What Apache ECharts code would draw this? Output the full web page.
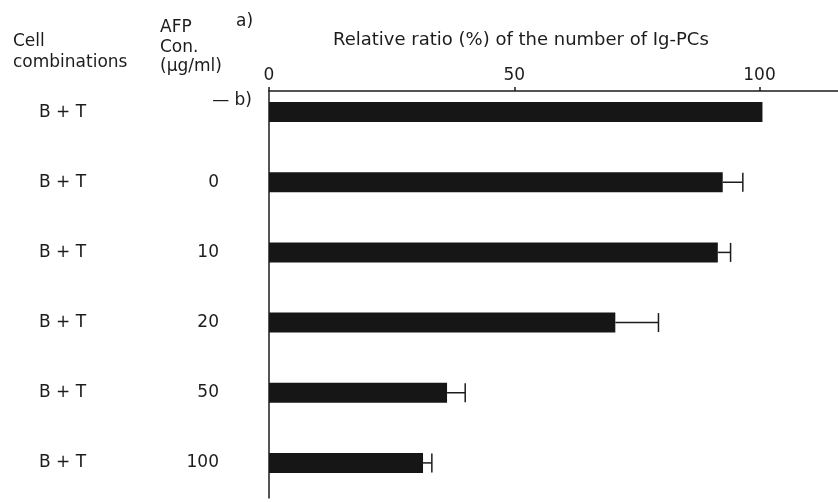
<!DOCTYPE html>
<html>
<head>
<meta charset="utf-8">
<script src="https://cdn.jsdelivr.net/npm/echarts@6/dist/echarts.min.js"></script>
<style>
  html, body { margin: 0; padding: 0; background: #ffffff; }
  #chart { width: 838px; height: 502px; }
</style>
</head>
<body>
<div id="chart"></div>
<script>
// Cell combinations and AFP concentrations per row
const cellCombos = ['B + T', 'B + T', 'B + T', 'B + T', 'B + T', 'B + T'];
const afpConc = ['— b)', '0', '10', '20', '50', '100'];
// Relative ratio (%) of Ig-PC numbers and the upper error (SD)
const ratioValues = [100.6, 92.5, 91.5, 70.6, 36.3, 31.4];
const ratioErrors = [null, 4.1, 2.6, 8.8, 3.7, 1.8];

const FONT = 'DejaVu Sans';
const INK = '#1c1c1c';
const AXIS_MAX = 116;

const chart = echarts.init(document.getElementById('chart'), null, { renderer: 'canvas' });

const rowIndex = cellCombos.map((_, i) => i);
const errData = rowIndex
  .filter(i => ratioErrors[i] != null)
  .map(i => [i, ratioValues[i], ratioValues[i] + ratioErrors[i]]);

function headerText(text, x, y, size) {
  return {
    type: 'text', x: x, y: y,
    style: { text: text, font: (size || 17) + 'px "' + FONT + '"', fill: INK, textVerticalAlign: 'middle' }
  };
}

const option = {
  backgroundColor: '#ffffff',
  animation: false,
  grid: [
    // frame: top value axis and the vertical baseline
    { left: 269, right: 0, top: 91, bottom: 4 },
    // rows: bars and error bars
    { left: 269, right: 0, top: 77, bottom: 4 }
  ],
  xAxis: [
    {
      gridIndex: 0, type: 'value', position: 'top',
      min: 0, max: AXIS_MAX, interval: 50,
      axisLine: { show: true, onZero: false, lineStyle: { color: INK, width: 1.5 } },
      axisTick: { show: true, length: 4, lineStyle: { color: INK, width: 1.5 } },
      axisLabel: { show: true, margin: 7, showMaxLabel: false, color: INK, fontFamily: FONT, fontSize: 17 },
      splitLine: { show: false }
    },
    {
      gridIndex: 1, type: 'value', min: 0, max: AXIS_MAX, show: false
    }
  ],
  yAxis: [
    {
      gridIndex: 0, type: 'value', min: 0, max: 1,
      axisLine: { show: true, onZero: false, lineStyle: { color: INK, width: 1.5 } },
      axisTick: { show: false }, axisLabel: { show: false }, splitLine: { show: false }
    },
    {
      gridIndex: 1, type: 'category', inverse: true, data: rowIndex.map(String),
      axisLine: { show: false }, axisTick: { show: false }, splitLine: { show: false },
      axisLabel: {
        margin: 2,
        formatter: function (v) {
          const i = Number(v);
          if (i === 0) {
            return '{c|' + cellCombos[i] + '}{b|' + afpConc[i] + '}{s2| }';
          }
          return '{c|' + cellCombos[i] + '}{v|' + afpConc[i] + '}{s| }';
        },
        rich: {
          c: { width: 145, align: 'left', fontFamily: FONT, fontSize: 17, color: INK, lineHeight: 40, verticalAlign: 'middle' },
          v: { width: 35, align: 'right', fontFamily: FONT, fontSize: 17, color: INK, lineHeight: 40, verticalAlign: 'middle' },
          s: { width: 48, fontSize: 17, lineHeight: 40 },
          b: { width: 68, align: 'right', fontFamily: FONT, fontSize: 17, color: INK, lineHeight: 20, verticalAlign: 'top' },
          s2: { width: 15, fontSize: 17, lineHeight: 40 }
        }
      }
    }
  ],
  graphic: [
    headerText('Cell', 13, 42),
    headerText('combinations', 13, 63),
    headerText('AFP', 160, 28),
    headerText('Con.', 160, 48),
    headerText('(μg/ml)', 160, 67),
    headerText('a)', 236, 22),
    headerText('Relative ratio (%) of the number of Ig-PCs', 333, 40, 18)
  ],
  series: [
    {
      type: 'bar', xAxisIndex: 1, yAxisIndex: 1,
      data: ratioValues, barWidth: 20,
      itemStyle: { color: '#161616' }
    },
    {
      type: 'custom', xAxisIndex: 1, yAxisIndex: 1,
      data: errData,
      encode: { x: [1, 2], y: 0 },
      renderItem: function (params, api) {
        const row = api.value(0);
        const start = api.coord([api.value(1), row]);
        const end = api.coord([api.value(2), row]);
        const half = 9.5;
        const style = { stroke: INK, lineWidth: 1.5 };
        return {
          type: 'group',
          children: [
            { type: 'line', shape: { x1: start[0], y1: start[1], x2: end[0], y2: end[1] }, style: style },
            { type: 'line', shape: { x1: end[0], y1: end[1] - half, x2: end[0], y2: end[1] + half }, style: style }
          ]
        };
      },
      z: 3
    }
  ]
};

chart.setOption(option);
</script>
</body>
</html>
